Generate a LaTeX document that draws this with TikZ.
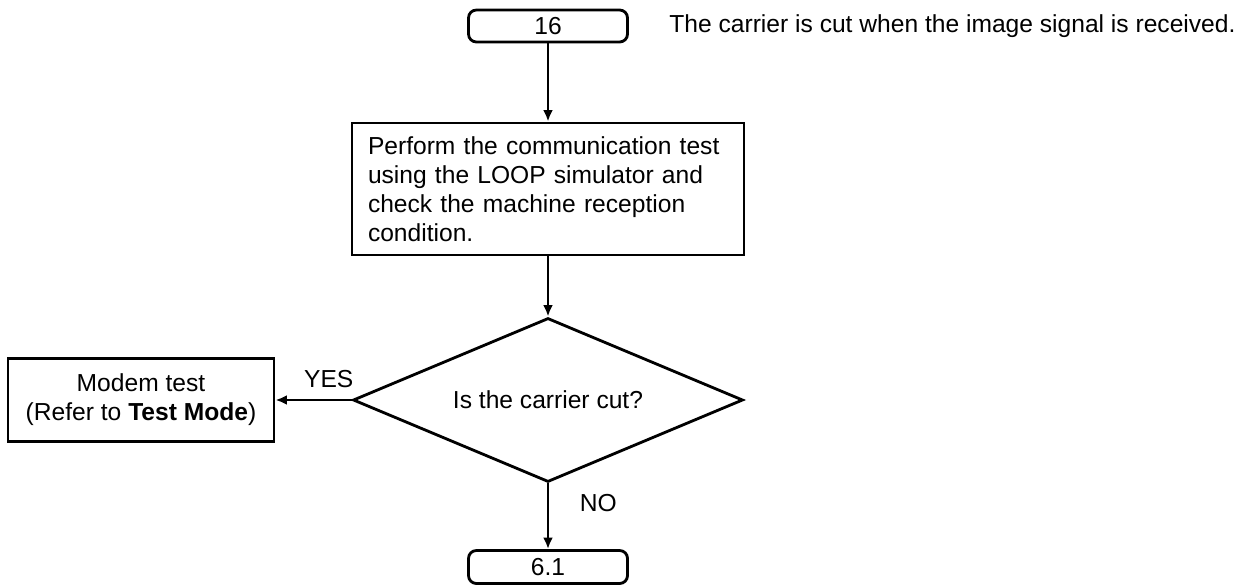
\documentclass[tikz,border=0pt]{standalone}
\usepackage{fontspec}
\setmainfont{Liberation Sans}
\usepackage{tikz}
\usetikzlibrary{calc,shapes.geometric,arrows.meta}

\begin{document}
\begin{tikzpicture}[font=\fontsize{14}{16.4}\selectfont,
    line width=1.6pt,
    term/.style={draw, rounded corners=4.5pt, minimum width=3.18cm, inner sep=0pt},
    stepbox/.style={draw, inner sep=0pt},
    decide/.style={draw, diamond, aspect=2.4, inner sep=0pt,
      minimum width=7.8cm, minimum height=3.28cm},
    flow/.style={-{Latex[length=6.5pt,width=5.5pt]}}]
  \useasboundingbox (0,0) rectangle (24.9,-11.72);
  \node[term, minimum height=0.64cm] (t16) at (10.96,-0.52) {16};
  \node[anchor=west, inner sep=0pt] (note) at (13.36,-0.52)
    {The carrier is cut when the image signal is received.};
  \node[stepbox, minimum width=7.76cm, minimum height=2.64cm,
    text width=7.2cm, align=left, inner xsep=0.32cm] (chk) at (10.96,-3.78)
    {Perform the communication test\\using the LOOP simulator and\\check the machine reception\\condition.};
  \node[decide] (dec) at (10.96,-8.0) {Is the carrier cut?};
  \node[stepbox, minimum width=5.32cm, minimum height=1.66cm, align=center] (modem)
    at (2.82,-8.0) {Modem test\\(Refer to \textbf{Test Mode})};
  \node[term, minimum height=0.66cm] (t61) at (10.96,-11.34) {6.1};
  \draw[flow] (t16) -- (chk);
  \draw[flow] (chk) -- (dec);
  \draw[flow] (dec.west) -- (modem.east) node[pos=0.3, above=3pt] (yes) {YES};
  \draw[flow] (dec) -- (t61) node[pos=0.3, right=14pt] (no) {NO};
\end{tikzpicture}
\end{document}
